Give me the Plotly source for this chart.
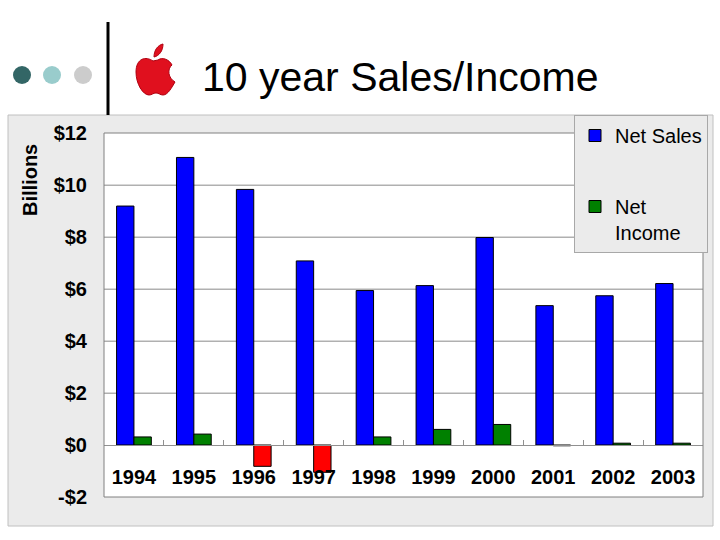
import plotly.graph_objects as go

years = ["1994", "1995", "1996", "1997", "1998", "1999", "2000", "2001", "2002", "2003"]
net_sales = [9.19, 11.06, 9.83, 7.08, 5.94, 6.13, 7.98, 5.36, 5.74, 6.21]
net_income = [0.31, 0.42, -0.82, -1.05, 0.31, 0.60, 0.79, -0.03, 0.07, 0.07]
y_tick_vals = [-2, 0, 2, 4, 6, 8, 10, 12]
y_tick_text = ["-$2", "$0", "$2", "$4", "$6", "$8", "$10", "$12"]

W, H = 720, 540
def px(x): return x / W
def py(y): return 1 - y / H

income_colors = ["#008000" if v >= 0 else "#ff0000" for v in net_income]

fig = go.Figure()
fig.add_trace(go.Bar(x=years, y=net_sales, name="Net Sales", legendgroup="a",
                     marker=dict(color="#0000ff", line=dict(color="#000000", width=1))))
fig.add_trace(go.Bar(x=years, y=net_income, name="Net<br>Income", legendgroup="b",
                     marker=dict(color=income_colors, line=dict(color="#000000", width=1))))

ybot, ytop = py(497), py(133)
zero_pos = ybot + (0 - (-2)) / 14 * (ytop - ybot)

fig.update_layout(
    width=W, height=H,
    margin=dict(l=0, r=0, t=0, b=0, autoexpand=False),
    paper_bgcolor="white", plot_bgcolor="white",
    barmode="group", bargap=0.42, bargroupgap=0,
    font=dict(family="Liberation Sans, Arial", color="black"),
    xaxis=dict(domain=[px(104), px(703)], anchor="free", position=zero_pos,
               type="category", showline=True, linecolor="#909090", linewidth=1,
               ticks="inside", ticklen=5, tickcolor="#909090", tickson="boundaries",
               showgrid=False, ticklabelstandoff=14, automargin=False,
               tickfont=dict(size=20, family="Liberation Sans, Arial", color="black", weight="bold")),
    yaxis=dict(domain=[ybot, ytop], range=[-2, 12], tickvals=y_tick_vals, ticktext=y_tick_text,
               showgrid=True, gridcolor="#b0b0b0", gridwidth=1, zeroline=False,
               showline=False, ticks="", ticklabelstandoff=16, automargin=False,
               tickfont=dict(size=20, family="Liberation Sans, Arial", color="black", weight="bold")),
    legend=dict(x=px(574), y=py(115), xanchor="left", yanchor="top",
                bgcolor="#ebebeb", bordercolor="#a8a8a8", borderwidth=1,
                font=dict(size=20, family="Liberation Sans, Arial", color="black"),
                traceorder="grouped", tracegroupgap=42, itemwidth=30, valign="top"),
    showlegend=True,
)

PANEL = "#ebebeb"
def prect(x0, y0, x1, y1, **kw):
    d = dict(type="rect", xref="paper", yref="paper", x0=px(x0), x1=px(x1), y0=py(y1), y1=py(y0))
    d.update(kw)
    return d

shapes = [
    # gray panel around the plot area
    prect(8, 115, 713, 133, fillcolor=PANEL, line=dict(width=0), layer="below"),
    prect(8, 497, 713, 526, fillcolor=PANEL, line=dict(width=0), layer="below"),
    prect(8, 133, 104, 497, fillcolor=PANEL, line=dict(width=0), layer="below"),
    prect(703, 133, 713, 497, fillcolor=PANEL, line=dict(width=0), layer="below"),
    prect(8, 115, 713, 526, fillcolor="rgba(0,0,0,0)", line=dict(color="#c0c0c0", width=1), layer="below"),
]
# horizontal gridlines on the y scale (below the bars)
for v in y_tick_vals:
    if -2 < v < 12 and v != 0:
        shapes.append(dict(type="line", xref="x domain", yref="y", x0=0, x1=1, y0=v, y1=v,
                           line=dict(color="#b0b0b0", width=1), layer="below"))
shapes += [
    # plot border
    dict(type="rect", xref="x domain", yref="y domain", x0=0, x1=1, y0=0, y1=1,
         line=dict(color="#808080", width=1), fillcolor="rgba(0,0,0,0)", layer="above"),
    # vertical line
    dict(type="line", xref="paper", yref="paper", x0=px(108), x1=px(108), y0=py(22), y1=py(115),
         line=dict(color="black", width=3)),
]
for cx, col in [(22, "#336666"), (52, "#99cccc"), (83, "#cccccc")]:
    shapes.append(dict(type="circle", xref="paper", yref="paper", x0=px(cx - 9), x1=px(cx + 9),
                       y0=py(84), y1=py(66), fillcolor=col, line=dict(width=0)))

def path(pts_cmd):
    out = []
    for tok in pts_cmd:
        if isinstance(tok, str):
            out.append(tok)
        else:
            out.append(f"{px(tok[0]):.5f},{py(tok[1]):.5f}")
    return " ".join(out)

apple_body = path(["M", (153, 61), "C", (146, 56), (136, 58), (136, 72),
                   "C", (136, 84), (143, 95), (149, 95),
                   "C", (152, 95), (153, 93), (156, 93),
                   "C", (159, 93), (160, 95), (163, 95),
                   "C", (168, 95), (172, 87), (175, 82),
                   "C", (168, 78), (167, 69), (172, 65),
                   "C", (169, 59), (162, 57), (158, 60), "Z"])
apple_leaf = path(["M", (154, 57), "C", (154, 50), (158, 45), (163, 44),
                   "C", (163, 51), (159, 56), (154, 57), "Z"])
shapes.append(dict(type="path", xref="paper", yref="paper", path=apple_body,
                   fillcolor="#e0101e", line=dict(color="#b00010", width=1)))
shapes.append(dict(type="path", xref="paper", yref="paper", path=apple_leaf,
                   fillcolor="#e0101e", line=dict(color="#b00010", width=1)))
fig.update_layout(shapes=shapes)

fig.add_annotation(text="10 year Sales/Income", xref="paper", yref="paper", x=px(200), y=py(77),
                   xanchor="left", yanchor="middle", showarrow=False,
                   font=dict(size=41, family="Liberation Sans, Arial", color="black"))
fig.add_annotation(text="<b>Billions</b>", xref="paper", yref="paper", x=px(30), y=py(180),
                   xanchor="center", yanchor="middle", textangle=-90, showarrow=False,
                   font=dict(size=20, family="Liberation Sans, Arial", color="black"))

fig.write_html("out.html", config={"displayModeBar": False},
               post_script="document.body.style.margin='0';")
